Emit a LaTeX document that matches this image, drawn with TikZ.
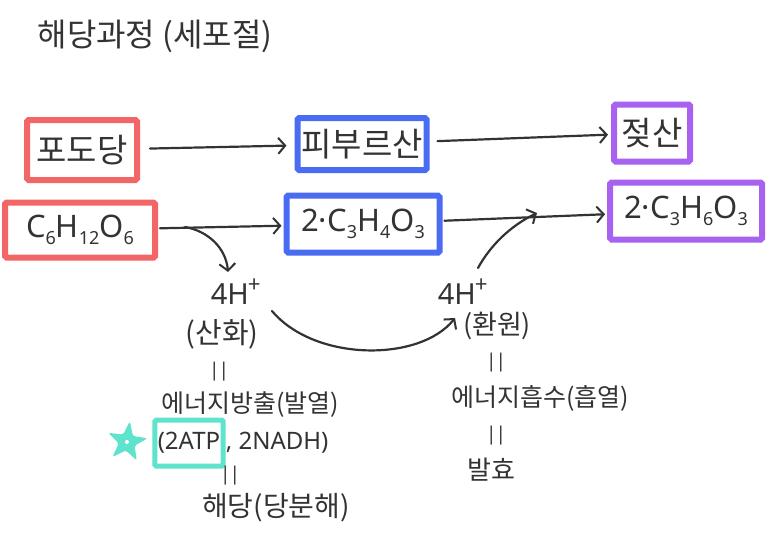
\documentclass[tikz,border=0pt]{standalone}
\usepackage{fontspec}
\setmainfont{Noto Sans CJK KR}
\newfontfamily\lat{Noto Sans}
\usetikzlibrary{arrows.meta,shapes.geometric,calc}
\definecolor{bred}{HTML}{F26666}
\definecolor{bblue}{HTML}{4A6CF2}
\definecolor{bpurple}{HTML}{A862F0}
\definecolor{bteal}{HTML}{5FE3CC}
\definecolor{ink}{HTML}{333333}
\newcommand{\sbs}[1]{\raisebox{-0.22em}{\fontsize{18}{18}\selectfont #1}}
\newcommand{\sps}[1]{\raisebox{0.42em}{\fontsize{22}{22}\selectfont #1}}
\tikzset{
  box/.style={draw=#1, line width=6pt, rounded corners=1.5pt, inner sep=0pt, text=ink, font=\fontsize{33}{36}\selectfont},
  fbox/.style={box=#1, font=\lat\fontsize{31}{34}\selectfont},
  arr/.style={draw=ink, line width=2.2pt, line cap=round, -{Straight Barb[length=7pt,width=16pt,line width=2pt]}},
  lbl/.style={text=ink, inner sep=1pt, font=\fontsize{25}{28}\selectfont},
  big/.style={text=ink, inner sep=1pt, font=\fontsize{29}{32}\selectfont},
  eq/.style={text=ink, inner sep=0pt, font=\lat\fontsize{19}{20}\selectfont}
}
\begin{document}
\begin{tikzpicture}[x=1pt,y=-1pt]
\useasboundingbox[fill=white] (0,0) rectangle (773,533);

% title
\node[text=ink, font=\fontsize{32}{34}\selectfont] (title) at (155,36) {해당과정 (세포절)};

% boxes
\node[box=bred, minimum width=110pt, minimum height=60pt] (pdd) at (82,150) {포도당};
\node[box=bblue, minimum width=129pt, minimum height=52pt] (pyr) at (362,144) {피부르산};
\node[box=bpurple, minimum width=76pt, minimum height=57pt] (lac) at (652,133) {젖산};
\node[fbox=bred, minimum width=150pt, minimum height=55pt] (glu) at (80,230) {C\sbs{6}H\sbs{12}O\sbs{6}};
\node[fbox=bblue, minimum width=153pt, minimum height=57pt] (pyr2) at (363,224) {2·C\sbs{3}H\sbs{4}O\sbs{3}};
\node[fbox=bpurple, minimum width=152pt, minimum height=57pt] (lac2) at (686,211) {2·C\sbs{3}H\sbs{6}O\sbs{3}};

% main arrows
\draw[arr, shorten <=10pt, shorten >=8pt] (pdd) -- (pyr);
\draw[arr, shorten <=8pt, shorten >=3pt] (pyr) -- (lac);
\draw[arr, shorten <=2pt, shorten >=2pt] (glu) -- (pyr2);
\draw[arr, shorten <=2pt, shorten >=2pt] (pyr2) -- (lac2);

% left column
\node[big] (h1) at (236,292) {{\lat 4H}\sps{+}};
\node[big] (ox) at (222,334) {(산화)};
\node[eq] (e1) at (219,372) {|\kern-1pt|};
\node[lbl] (rel) at (250,405) {에너지방출(발열)};
\node[lbl, font=\lat\fontsize{24}{26}\selectfont, draw=bteal, line width=5pt, rounded corners=1.5pt, minimum height=46pt, inner xsep=3pt] (atp) at (189,443) {(2ATP};
\node[lbl, font=\lat\fontsize{24}{26}\selectfont, anchor=west, inner xsep=0pt] (nadh) at (atp.east) {, 2NADH)};
\node[eq] (e2) at (230,476) {|\kern-1pt|};
\node[lbl, font=\fontsize{28}{30}\selectfont] (gly) at (276,508) {해당(당분해)};

% star
\node[star, star points=5, star point ratio=2.5, fill=bteal, minimum size=42pt, inner sep=0pt, rounded corners=2.5pt, rotate=-8] (star) at (127,442) {};
\fill[white] (star.center) circle (2pt);

% right column
\node[big] (h2) at (463,292) {{\lat 4H}\sps{+}};
\node[lbl, font=\fontsize{27}{30}\selectfont] (red) at (497,326) {(환원)};
\node[eq] (e3) at (496,363) {|\kern-1pt|};
\node[lbl] (abs) at (540,398) {에너지흡수(흡열)};
\node[eq] (e4) at (496,436) {|\kern-1pt|};
\node[lbl, font=\fontsize{26}{28}\selectfont] (fer) at (491,470) {발효};

% curved connectors
\coordinate (s1) at (185,227);
\coordinate (t1) at (228,272);
\draw[arr] (s1) .. controls (208,231) and (226,248) .. (t1);
\coordinate (s2) at (272,311);
\coordinate (t2) at (455,318);
\draw[arr] (s2) .. controls (315,362) and (420,362) .. (t2);
\coordinate (s3) at (478,268);
\coordinate (t3) at (537,213);
\draw[arr] (s3) .. controls (490,246) and (510,226) .. (t3);
\end{tikzpicture}
\end{document}
